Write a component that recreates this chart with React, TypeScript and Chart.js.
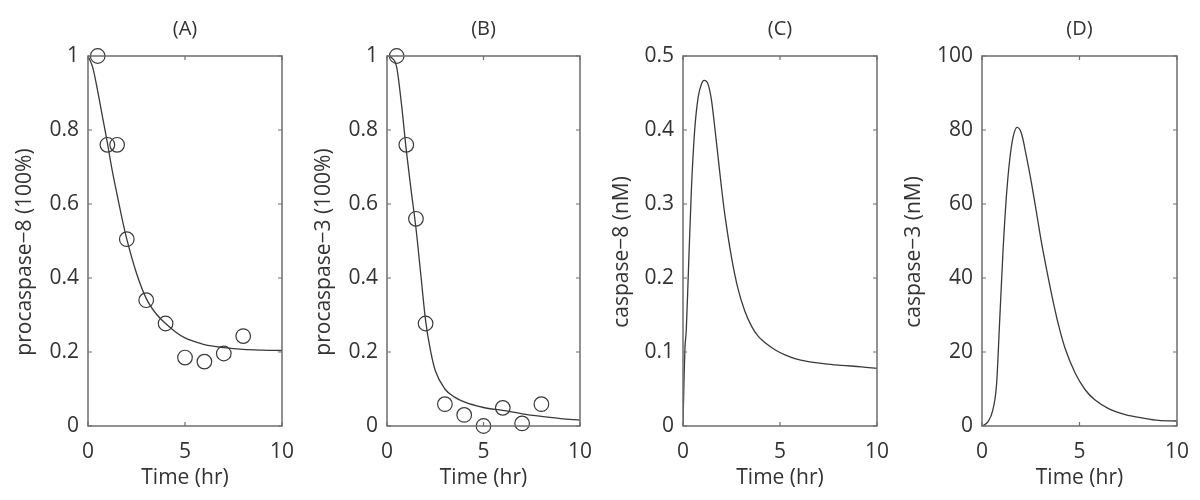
import React, { useEffect, useRef } from "react";
import { Chart, registerables } from "chart.js";

Chart.register(...registerables);

// ---------- data ----------
const xTickValues = [0, 5, 10];
const xTickLabels = ["0", "5", "10"];

const sampleTimes = [0.5, 1, 1.5, 2, 3, 4, 5, 6, 7, 8];
const procaspase8Measured = [1.0, 0.76, 0.76, 0.505, 0.34, 0.277, 0.185, 0.174, 0.196, 0.243];
const procaspase3Measured = [1.0, 0.76, 0.56, 0.277, 0.059, 0.03, 0.0, 0.049, 0.007, 0.059];

const fitTimesA = [0, 0.25, 0.5, 0.75, 1, 1.25, 1.5, 1.75, 2, 2.5, 3, 3.5, 4, 4.5, 5, 5.5, 6, 7, 8, 9, 10];
const procaspase8Model = [1.0, 0.968, 0.905, 0.835, 0.765, 0.69, 0.625, 0.562, 0.505, 0.413, 0.345, 0.304, 0.277, 0.255, 0.238, 0.228, 0.22, 0.212, 0.207, 0.205, 0.204];

const fitTimesB = [0, 0.25, 0.5, 0.75, 1, 1.25, 1.5, 1.75, 2, 2.25, 2.5, 3, 3.5, 4, 5, 6, 7, 8, 9, 10];
const procaspase3Model = [1.0, 0.995, 0.97, 0.87, 0.745, 0.637, 0.535, 0.41, 0.285, 0.205, 0.15, 0.1, 0.078, 0.065, 0.05, 0.042, 0.033, 0.026, 0.02, 0.016];

const fitTimesC = [0, 0.05, 0.1, 0.17, 0.26, 0.43, 0.6, 0.78, 0.95, 1.09, 1.29, 1.47, 1.64, 1.81, 1.98, 2.15, 2.5, 2.84, 3.19, 3.53, 3.88, 4.22, 4.74, 5.26, 5.77, 6.46, 7.32, 8.18, 9.2, 10];
const caspase8Model = [0, 0.06, 0.105, 0.13, 0.195, 0.318, 0.399, 0.444, 0.462, 0.467, 0.462, 0.44, 0.403, 0.363, 0.323, 0.287, 0.228, 0.185, 0.155, 0.135, 0.121, 0.113, 0.103, 0.096, 0.091, 0.087, 0.084, 0.082, 0.08, 0.078];

const fitTimesD = [0, 0.3, 0.55, 0.75, 0.9, 1.08, 1.25, 1.42, 1.6, 1.8, 2.02, 2.28, 2.54, 2.8, 3.05, 3.31, 3.57, 3.91, 4.26, 4.77, 5.29, 5.8, 6.49, 7.35, 8.2, 9.06, 10];
const caspase3Model = [0, 1.1, 4.2, 11.5, 27.7, 47.5, 62, 71.9, 78.2, 80.7, 79.1, 72.8, 65.6, 57.5, 49.6, 42.4, 35.6, 27.6, 21.0, 14.4, 9.8, 7.0, 4.7, 3.1, 2.2, 1.5, 1.35];

const yTicksFraction = [0, 0.2, 0.4, 0.6, 0.8, 1];
const yTickLabelsFraction = ["0", "0.2", "0.4", "0.6", "0.8", "1"];
const yTicksCasp8 = [0, 0.1, 0.2, 0.3, 0.4, 0.5];
const yTickLabelsCasp8 = ["0", "0.1", "0.2", "0.3", "0.4", "0.5"];
const yTicksCasp3 = [0, 20, 40, 60, 80, 100];
const yTickLabelsCasp3 = ["0", "20", "40", "60", "80", "100"];

const panelTitles = ["(A)", "(B)", "(C)", "(D)"];
const yTitles = ["procaspase\u22128 (100%)", "procaspase\u22123 (100%)", "caspase\u22128 (nM)", "caspase\u22123 (nM)"];
const xTitle = "Time (hr)";

// ---------- layout / style ----------
const FONT = "'Open Sans', 'Noto Sans', sans-serif";
const TEXT = "#333333";
const FRAME = "#6e6e6e";
const LINE = "#3a3a3a";
const CANVAS_H = 500;
const PLOT_TOP = 56;
const PLOT_BOTTOM = 426;

type PanelSpec = {
  left: number;
  width: number;
  yAxisWidth: number;
  padRight: number;
  yTitleX: number;
  title: string;
  yTitle: string;
  yTicks: number[];
  yTickLabels: string[];
  curveX: number[];
  curveY: number[];
  dotsX?: number[];
  dotsY?: number[];
};

const panels: PanelSpec[] = [
  { left: 0, width: 299, yAxisWidth: 88, padRight: 17, yTitleX: 25, title: panelTitles[0], yTitle: yTitles[0], yTicks: yTicksFraction, yTickLabels: yTickLabelsFraction, curveX: fitTimesA, curveY: procaspase8Model, dotsX: sampleTimes, dotsY: procaspase8Measured },
  { left: 299, width: 299, yAxisWidth: 88, padRight: 18, yTitleX: 25, title: panelTitles[1], yTitle: yTitles[1], yTicks: yTicksFraction, yTickLabels: yTickLabelsFraction, curveX: fitTimesB, curveY: procaspase3Model, dotsX: sampleTimes, dotsY: procaspase3Measured },
  { left: 598, width: 292, yAxisWidth: 85, padRight: 13, yTitleX: 24, title: panelTitles[2], yTitle: yTitles[2], yTicks: yTicksCasp8, yTickLabels: yTickLabelsCasp8, curveX: fitTimesC, curveY: caspase8Model },
  { left: 890, width: 310, yAxisWidth: 92, padRight: 23, yTitleX: 24, title: panelTitles[3], yTitle: yTitles[3], yTicks: yTicksCasp3, yTickLabels: yTickLabelsCasp3, curveX: fitTimesD, curveY: caspase3Model },
];

const toPoints = (xs: number[], ys: number[]) => xs.map((x, i) => ({ x, y: ys[i] }));

function Panel({ spec }: { spec: PanelSpec }) {
  const ref = useRef<HTMLCanvasElement | null>(null);

  useEffect(() => {
    if (!ref.current) return;
    const datasets: any[] = [
      {
        data: toPoints(spec.curveX, spec.curveY),
        showLine: true,
        pointRadius: 0,
        borderColor: LINE,
        borderWidth: 1.3,
        cubicInterpolationMode: "monotone",
        fill: false,
      },
    ];
    if (spec.dotsX && spec.dotsY) {
      datasets.push({
        data: toPoints(spec.dotsX, spec.dotsY),
        showLine: false,
        pointRadius: 7.3,
        pointStyle: "circle",
        pointBorderColor: LINE,
        pointBackgroundColor: "rgba(0,0,0,0)",
        pointBorderWidth: 1.2,
        clip: false,
      });
    }

    const framePlugin = {
      id: "matlabFrame",
      afterDraw(chart: any) {
        const { ctx, chartArea } = chart;
        const { left, right, top, bottom } = chartArea;
        const xs = chart.scales.x;
        const ys = chart.scales.y;
        ctx.save();
        ctx.strokeStyle = FRAME;
        ctx.lineWidth = 1.5;
        ctx.strokeRect(left, top, right - left, bottom - top);
        ctx.lineWidth = 1.2;
        const tl = 4;
        ctx.beginPath();
        xs.ticks.forEach((t: any) => {
          const px = xs.getPixelForValue(t.value);
          ctx.moveTo(px, bottom);
          ctx.lineTo(px, bottom - tl);
          ctx.moveTo(px, top);
          ctx.lineTo(px, top + tl);
        });
        ys.ticks.forEach((t: any) => {
          const py = ys.getPixelForValue(t.value);
          ctx.moveTo(left, py);
          ctx.lineTo(left + tl, py);
          ctx.moveTo(right, py);
          ctx.lineTo(right - tl, py);
        });
        ctx.stroke();

        ctx.fillStyle = TEXT;
        ctx.textAlign = "center";
        ctx.textBaseline = "middle";
        ctx.font = `20px ${FONT}`;
        ctx.fillText(spec.title, (left + right) / 2, 29);

        ctx.font = `21px ${FONT}`;
        ctx.translate(spec.yTitleX, (top + bottom) / 2 + 11);
        ctx.rotate(-Math.PI / 2);
        ctx.fillText(spec.yTitle, 0, 0);
        ctx.restore();
      },
    };

    const tickFont = { family: FONT, size: 21 };

    const chart = new Chart(ref.current, {
      type: "scatter",
      data: { datasets },
      options: {
        responsive: false,
        maintainAspectRatio: false,
        animation: false,
        devicePixelRatio: 1,
        events: [],
        layout: { padding: { left: 0, right: spec.padRight, top: PLOT_TOP, bottom: 0 } },
        plugins: {
          legend: { display: false },
          tooltip: { enabled: false },
          title: { display: false },
        },
        scales: {
          x: {
            type: "linear",
            min: 0,
            max: 10,
            grid: { display: false, drawTicks: false },
            border: { display: false },
            ticks: {
              font: tickFont,
              color: TEXT,
              padding: 13,
              maxRotation: 0,
              autoSkip: false,
              callback: (_v: any, i: number) => xTickLabels[i],
            },
            afterBuildTicks: (s: any) => {
              s.ticks = xTickValues.map((v) => ({ value: v }));
            },
            afterFit: (s: any) => {
              s.height = CANVAS_H - PLOT_BOTTOM;
              s.paddingLeft = 0;
              s.paddingRight = 0;
            },
            title: {
              display: true,
              text: xTitle,
              font: tickFont,
              color: TEXT,
              padding: { top: 0, bottom: 9 },
            },
          },
          y: {
            type: "linear",
            min: spec.yTicks[0],
            max: spec.yTicks[spec.yTicks.length - 1],
            grid: { display: false, drawTicks: false },
            border: { display: false },
            ticks: {
              font: tickFont,
              color: TEXT,
              padding: 9,
              autoSkip: false,
              callback: (_v: any, i: number) => spec.yTickLabels[i],
            },
            afterBuildTicks: (s: any) => {
              s.ticks = spec.yTicks.map((v) => ({ value: v }));
            },
            afterFit: (s: any) => {
              s.width = spec.yAxisWidth;
              s.paddingTop = 0;
              s.paddingBottom = 0;
            },
          },
        },
      } as any,
      plugins: [framePlugin],
    });

    return () => chart.destroy();
  }, [spec]);

  return (
    <canvas
      ref={ref}
      width={spec.width}
      height={CANVAS_H}
      style={{ position: "absolute", left: spec.left, top: 0, width: spec.width, height: CANVAS_H }}
    />
  );
}

export default function App() {
  return (
    <div style={{ position: "absolute", left: 0, top: 0, width: 1200, height: 500, background: "#ffffff", overflow: "hidden" }}>
      {panels.map((p, i) => (
        <Panel key={i} spec={p} />
      ))}
    </div>
  );
}
